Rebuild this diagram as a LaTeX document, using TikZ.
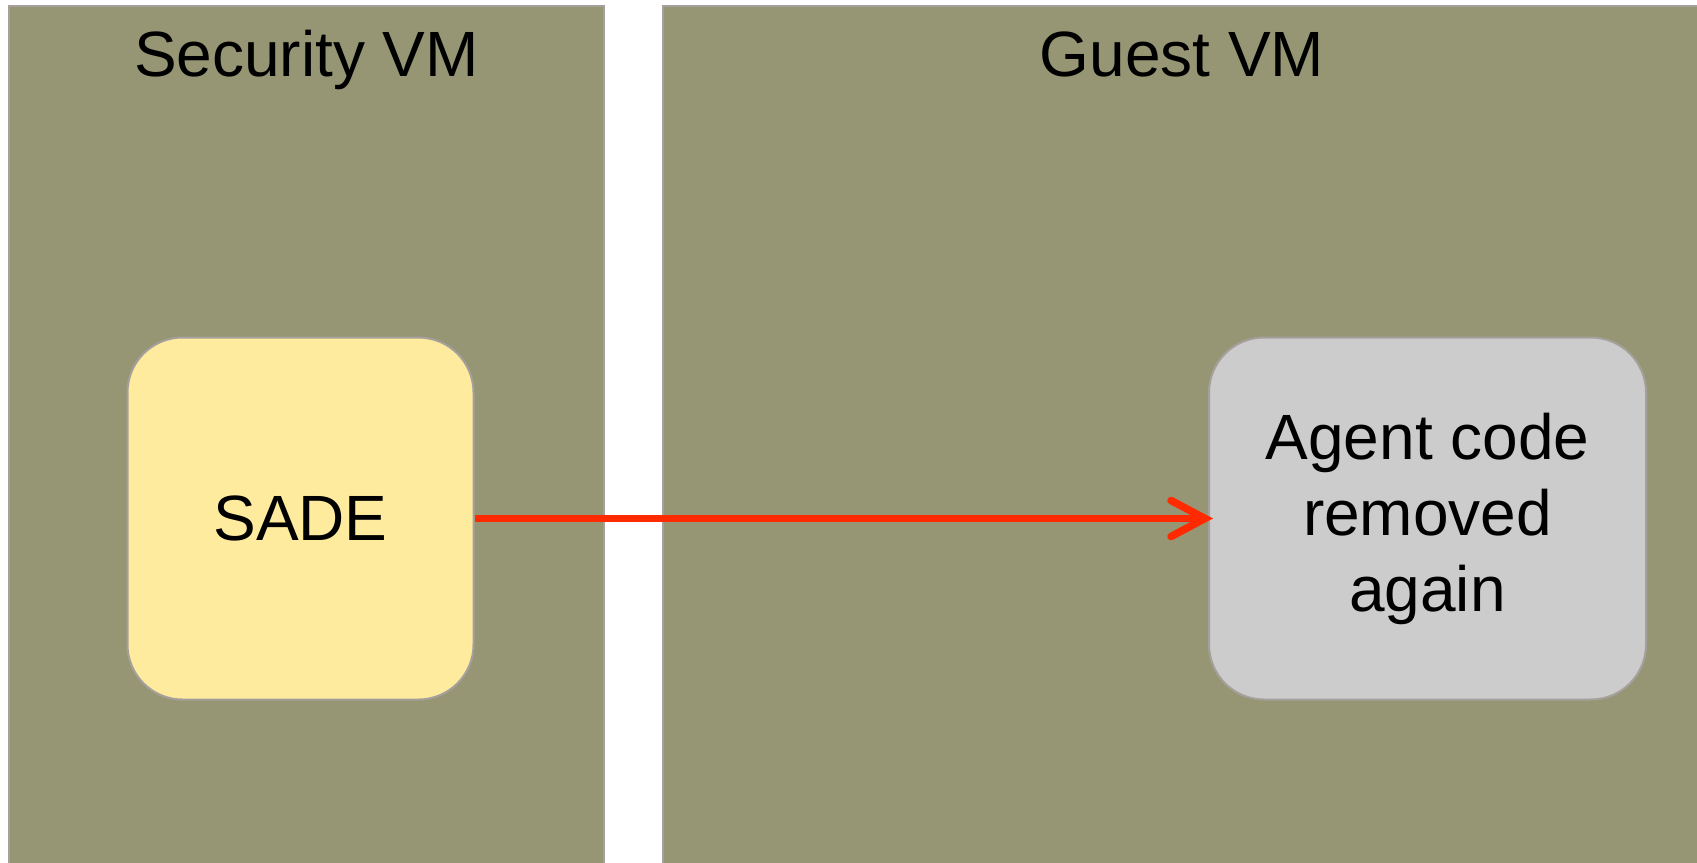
\documentclass[tikz,border=0pt]{standalone}
\usepackage{fontspec}
\setmainfont{Liberation Sans}
\usetikzlibrary{arrows.meta}
\definecolor{vmolive}{RGB}{151,150,116}
\definecolor{vmedge}{RGB}{166,160,156}
\definecolor{sadefill}{RGB}{255,235,158}
\definecolor{agentfill}{RGB}{204,204,204}
\definecolor{arrowred}{RGB}{255,42,0}
\tikzset{
  vmpanel/.style={draw=vmedge, fill=vmolive, line width=2pt},
  vmtitle/.style={font=\fontsize{64}{76}\selectfont, anchor=base, inner sep=0pt},
  procbox/.style={draw=vmedge, line width=2pt, rounded corners=55pt,
    minimum width=346pt, minimum height=362pt, align=center,
    font=\fontsize{64}{76}\selectfont, inner sep=0pt},
  flow/.style={draw=arrowred, line width=7.5pt, shorten >=-5pt,
    -{Straight Barb[length=34pt,width=36pt,line cap=round]}}
}
\begin{document}
\begin{tikzpicture}[x=1pt,y=-1pt]
\useasboundingbox (0,0) rectangle (1697,862);
\clip (0,0) rectangle (1697,862);
\fill[white] (0,0) rectangle (1697,862);
% the two virtual machines
\draw[vmpanel] (9,6) rectangle (604,880);
\draw[vmpanel] (663,6) rectangle (1710,880);
\node[vmtitle] (sectitle) at (306.5,76) {Security VM};
\node[vmtitle] (guesttitle) at (1182,76) {Guest VM};
% components inside them
\node[procbox, fill=sadefill] (sade) at (300.5,518.5) {SADE};
\node[procbox, fill=agentfill, minimum width=437pt] (agent) at (1427.5,518.5)
  {Agent code\\removed\\again};
\draw[flow] (sade.east) -- (agent.west);
\end{tikzpicture}
\end{document}
